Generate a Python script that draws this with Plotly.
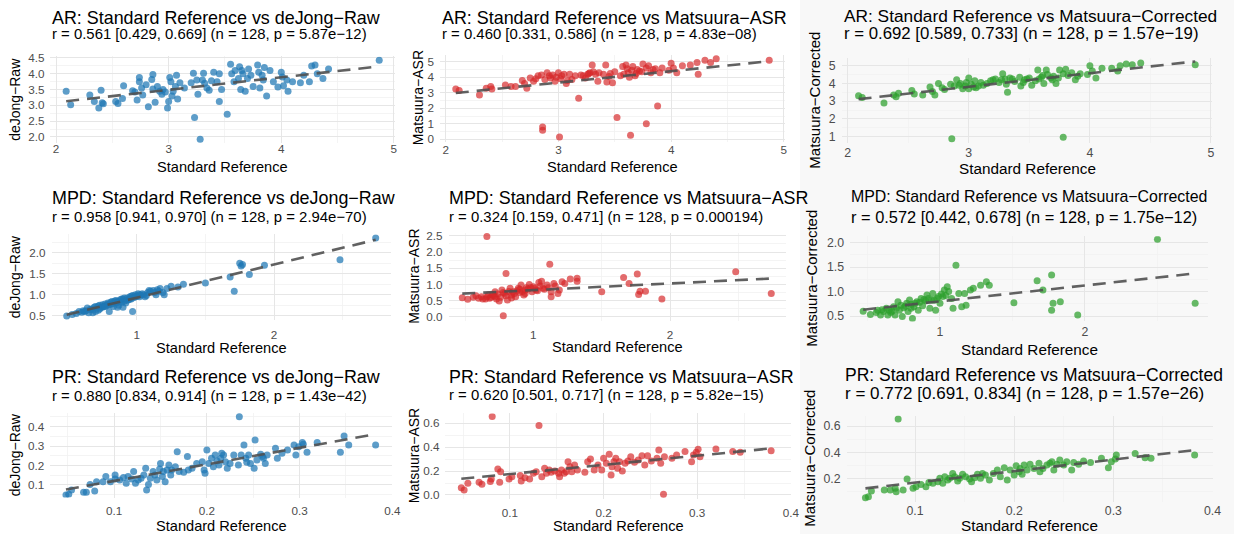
import numpy as np
import plotly.graph_objects as go

W, H = 1234, 534
FONT = "Liberation Sans, Arial, Helvetica, sans-serif"

# ---------------- data (Standard Reference x, method y) ----------------
AR_DEJONG = [(2.09,3.45),(2.13,3.02),(2.30,3.33),(2.34,3.12),(2.38,2.92),(2.40,3.48),(2.41,3.08),(2.42,3.05),
    (2.53,3.12),(2.55,3.06),(2.60,3.62),(2.59,3.22),(2.68,3.46),(2.70,3.42),(2.72,3.17),(2.74,3.88),(2.74,3.75),
    (2.76,3.55),(2.77,3.33),(2.80,3.65),(2.82,2.96),(2.85,3.82),(2.86,3.98),(2.86,3.52),(2.88,3.10),(2.90,3.60),
    (2.92,3.45),(2.94,3.35),(2.95,3.50),(2.97,3.42),(2.99,2.92),(3.00,3.12),(3.01,3.88),(3.02,3.75),(3.03,3.30),
    (3.04,3.45),(3.06,3.60),(3.07,3.95),(3.08,3.20),(3.10,3.72),(3.14,3.55),(3.20,3.72),(3.22,4.02),(3.23,2.62),
    (3.25,3.80),(3.26,3.35),(3.28,1.93),(3.30,3.80),(3.31,4.02),(3.32,3.70),(3.34,3.55),(3.36,3.48),(3.38,3.78),
    (3.40,4.05),(3.43,3.75),(3.45,4.00),(3.45,3.12),(3.47,3.50),(3.52,2.72),(3.55,4.30),(3.56,4.00),(3.58,3.75),
    (3.59,4.10),(3.62,3.85),(3.63,4.22),(3.64,3.50),(3.65,4.10),(3.66,4.00),(3.68,3.45),(3.70,3.85),(3.71,4.15),
    (3.73,3.95),(3.75,3.60),(3.79,4.28),(3.80,4.05),(3.81,3.55),(3.83,3.95),(3.84,3.80),(3.85,4.20),(3.87,3.30),
    (3.90,4.10),(3.93,3.75),(3.97,3.58),(4.00,4.05),(4.01,3.90),(4.02,3.62),(4.05,3.80),(4.06,3.45),(4.10,3.75),
    (4.17,3.72),(4.20,3.95),(4.25,3.75),(4.27,4.25),(4.30,4.28),(4.32,4.00),(4.37,3.85),(4.42,4.15),(4.87,4.43)]

AR_ASR = [(2.09,3.25),(2.12,3.15),(2.30,2.85),(2.36,3.30),(2.40,3.40),(2.41,3.25),(2.53,3.50),(2.58,3.40),
    (2.62,3.40),(2.68,3.80),(2.70,3.60),(2.72,3.30),(2.75,3.95),(2.78,3.75),(2.82,4.10),(2.85,4.15),(2.86,0.80),
    (2.86,0.58),(2.88,3.85),(2.90,4.30),(2.92,4.10),(2.95,4.15),(2.97,3.75),(3.01,0.15),(3.00,4.30),(3.02,3.90),
    (3.03,4.10),(3.05,4.20),(3.07,3.60),(3.08,3.80),(3.10,4.20),(3.18,2.65),(3.20,4.15),(3.24,3.95),(3.26,4.20),
    (3.28,4.30),(3.30,4.80),(3.31,4.35),(3.33,4.20),(3.35,3.75),(3.40,4.20),(3.42,4.80),(3.43,3.70),(3.45,4.05),
    (3.48,3.65),(3.52,1.40),(3.55,4.10),(3.57,4.70),(3.60,4.80),(3.62,4.30),(3.63,4.00),(3.64,0.27),(3.65,4.45),
    (3.66,4.70),(3.68,4.10),(3.70,4.50),(3.72,4.40),(3.75,4.85),(3.78,1.00),(3.78,4.60),(3.80,4.75),(3.82,4.30),
    (3.84,4.50),(3.86,4.55),(3.88,2.15),(3.90,4.30),(3.98,4.45),(4.00,4.90),(4.02,4.60),(4.05,4.30),(4.10,4.75),
    (4.17,4.80),(4.23,4.95),(4.24,4.20),(4.30,5.10),(4.35,4.95),(4.40,5.20),(4.87,5.10),(2.93,3.95),(2.98,4.00),
    (3.12,3.85),(3.22,4.10),(3.27,4.25),(3.36,4.30),(3.46,4.25),(3.58,4.20),(3.61,4.55),(3.69,4.25),(3.74,4.35),
    (3.92,4.60),(2.80,3.90),(3.15,4.10),(3.50,4.35)]

AR_CORR = [(2.09,3.30),(2.12,3.20),(2.30,2.90),(2.38,3.35),(2.40,3.25),(2.42,3.45),(2.53,3.60),(2.55,3.40),
    (2.62,3.35),(2.68,3.80),(2.70,3.55),(2.72,3.35),(2.75,4.00),(2.78,3.75),(2.80,3.65),(2.85,3.95),(2.86,0.88),
    (2.88,3.85),(2.90,4.20),(2.92,3.90),(2.95,3.70),(2.98,4.05),(3.00,4.30),(3.00,3.70),(3.02,3.95),(3.04,3.80),
    (3.05,4.15),(3.08,3.85),(3.10,4.05),(3.18,4.15),(3.22,4.25),(3.25,4.05),(3.28,4.55),(3.30,4.25),(3.31,3.95),
    (3.32,3.50),(3.34,4.30),(3.38,4.10),(3.42,4.35),(3.43,3.85),(3.45,4.05),(3.48,4.25),(3.52,3.90),(3.55,4.15),
    (3.57,4.75),(3.60,4.35),(3.62,4.00),(3.64,4.75),(3.65,4.50),(3.68,4.30),(3.70,4.40),(3.72,4.00),(3.75,4.75),
    (3.78,0.97),(3.78,4.55),(3.80,4.80),(3.82,4.45),(3.85,4.60),(3.88,4.20),(3.90,4.40),(3.98,4.50),(4.00,5.00),
    (4.02,4.70),(4.05,4.30),(4.10,4.85),(4.18,4.85),(4.23,4.70),(4.25,5.00),(4.30,5.10),(4.35,5.05),(4.42,5.15),
    (4.87,5.05),(2.93,4.00),(2.97,3.85),(3.12,3.90),(3.20,4.20),(3.27,4.20),(3.36,4.25),(3.46,4.20),(3.58,4.25),
    (3.61,4.45),(3.69,4.20),(3.74,4.30),(3.92,4.55),(3.06,3.75),(3.15,4.00),(3.50,4.30)]

MPD_DEJONG = [(0.49,0.49),(0.53,0.53),(0.56,0.55),(0.60,0.58),(0.62,0.60),(0.63,0.62),(0.65,0.57),(0.66,0.65),
    (0.68,0.64),(0.69,0.70),(0.70,0.60),(0.71,0.68),(0.72,0.73),(0.73,0.66),(0.74,0.70),(0.75,0.76),(0.76,0.72),
    (0.77,0.78),(0.78,0.74),(0.79,0.80),(0.80,0.76),(0.80,0.60),(0.81,0.82),(0.82,0.78),(0.83,0.72),(0.84,0.85),
    (0.85,0.80),(0.86,0.83),(0.87,0.75),(0.88,0.88),(0.89,0.82),(0.90,0.90),(0.91,0.85),(0.92,0.80),(0.93,0.92),
    (0.94,0.88),(0.95,0.95),(0.96,0.90),(0.97,0.60),(0.97,0.98),(0.98,0.93),(0.99,1.00),(1.00,0.96),(1.01,1.02),
    (1.02,0.95),(1.03,0.99),(1.05,1.00),(1.07,0.98),(1.08,1.05),(1.10,1.08),(1.12,1.10),(1.14,1.00),(1.15,1.12),
    (1.17,1.15),(1.19,1.05),(1.20,1.00),(1.25,1.20),(1.30,1.18),(1.34,1.25),(1.50,1.28),(1.68,1.42),(1.71,1.08),
    (1.75,1.75),(1.76,1.68),(1.77,1.72),(1.82,1.48),(1.93,1.70),(2.48,1.83),(2.74,2.35),(0.58,0.60),(0.61,0.62),
    (0.64,0.68),(0.67,0.66),(0.70,0.72),(0.73,0.75),(0.75,0.70),(0.77,0.72),(0.79,0.76),(0.82,0.84),(0.83,0.80),
    (0.85,0.86),(0.87,0.84),(0.89,0.90),(0.91,0.92),(0.93,0.87),(0.95,0.90),(0.96,0.96),(0.99,0.95),(1.02,1.00),
    (1.04,1.02),(1.06,0.95),(1.09,1.10),(1.13,1.05),(1.16,1.08),(1.22,1.15),(0.90,0.70),(0.86,0.70),(0.72,0.63),
    (0.68,0.57)]

MPD_ASR = [(0.48,0.59),(0.52,0.54),(0.58,0.65),(0.60,0.57),(0.62,0.62),(0.65,0.55),(0.66,2.48),(0.67,0.67),
    (0.68,0.57),(0.70,0.69),(0.72,0.77),(0.73,0.55),(0.75,0.49),(0.77,0.83),(0.78,0.03),(0.79,0.72),(0.80,1.34),
    (0.81,0.52),(0.83,0.88),(0.84,0.67),(0.85,0.77),(0.87,0.62),(0.89,0.88),(0.90,0.75),(0.91,0.98),(0.93,0.67),
    (0.94,0.83),(0.95,0.90),(0.97,1.00),(0.99,0.77),(1.00,0.93),(1.02,0.83),(1.04,1.06),(1.06,1.10),(1.07,0.88),
    (1.10,0.98),(1.12,1.62),(1.13,0.77),(1.13,0.62),(1.15,1.03),(1.18,0.72),(1.19,0.83),(1.21,1.08),(1.23,1.03),
    (1.27,1.17),(1.32,1.19),(1.32,1.10),(1.50,0.77),(1.66,1.21),(1.70,1.03),(1.76,1.32),(1.77,0.69),(1.78,0.79),
    (1.82,0.79),(1.94,0.55),(2.48,1.39),(2.74,0.72),(0.56,0.60),(0.63,0.55),(0.66,0.62),(0.69,0.60),(0.71,0.65),
    (0.74,0.70),(0.76,0.60),(0.78,0.75),(0.80,0.65),(0.82,0.78),(0.86,0.72),(0.88,0.80),(0.90,0.85),(0.92,0.78),
    (0.94,0.72),(0.96,0.86),(0.98,0.90),(1.01,0.88),(1.03,0.80),(1.05,0.95),(1.08,0.85),(1.11,0.90),(1.16,0.95),
    (0.84,0.58),(0.72,0.62)]

MPD_CORR = [(0.47,0.60),(0.52,0.53),(0.57,0.62),(0.59,0.52),(0.61,0.59),(0.63,0.66),(0.64,0.52),(0.66,0.57),
    (0.68,0.69),(0.69,0.52),(0.71,0.79),(0.72,0.62),(0.74,0.49),(0.75,0.67),(0.77,0.76),(0.78,0.59),(0.79,0.83),
    (0.81,0.45),(0.82,0.69),(0.84,0.79),(0.85,0.62),(0.87,0.86),(0.88,0.71),(0.90,0.81),(0.91,0.93),(0.93,0.66),
    (0.94,0.83),(0.95,0.96),(0.97,0.62),(0.98,0.86),(1.00,0.76),(1.02,0.90),(1.03,1.03),(1.05,1.10),(1.06,1.00),
    (1.08,0.86),(1.09,0.66),(1.11,1.54),(1.13,0.96),(1.15,0.69),(1.17,0.96),(1.18,0.72),(1.21,1.03),(1.23,1.07),
    (1.28,1.13),(1.32,1.20),(1.34,1.13),(1.51,0.77),(1.67,1.22),(1.71,1.03),(1.77,1.34),(1.77,0.62),(1.78,0.76),
    (1.83,0.79),(1.95,0.52),(2.50,2.07),(2.76,0.76),(0.56,0.57),(0.60,0.63),(0.65,0.62),(0.70,0.66),(0.73,0.72),
    (0.76,0.70),(0.80,0.74),(0.83,0.76),(0.86,0.78),(0.89,0.84),(0.92,0.86),(0.96,0.82),(0.99,0.90),(1.01,0.95),
    (1.04,0.92),(0.67,0.60),(0.80,0.66)]

PR_DEJONG = [(0.048,0.049),(0.051,0.052),(0.054,0.074),(0.067,0.062),(0.070,0.062),(0.074,0.103),(0.079,0.069),
    (0.081,0.117),(0.088,0.117),(0.091,0.143),(0.096,0.117),(0.101,0.151),(0.101,0.131),(0.106,0.126),(0.110,0.138),
    (0.113,0.109),(0.115,0.143),(0.119,0.131),(0.121,0.169),(0.123,0.109),(0.126,0.126),(0.129,0.134),(0.132,0.151),
    (0.134,0.186),(0.135,0.074),(0.137,0.103),(0.139,0.134),(0.142,0.169),(0.144,0.151),(0.146,0.126),(0.149,0.182),
    (0.150,0.211),(0.152,0.143),(0.153,0.169),(0.155,0.117),(0.157,0.177),(0.159,0.203),(0.161,0.151),(0.162,0.177),
    (0.166,0.194),(0.168,0.271),(0.170,0.169),(0.175,0.165),(0.179,0.246),(0.180,0.177),(0.184,0.186),(0.189,0.211),
    (0.195,0.220),(0.197,0.177),(0.198,0.160),(0.200,0.280),(0.202,0.211),(0.205,0.237),(0.207,0.194),(0.209,0.254),
    (0.211,0.223),(0.213,0.203),(0.215,0.237),(0.216,0.263),(0.218,0.254),(0.220,0.220),(0.222,0.186),(0.225,0.211),
    (0.229,0.254),(0.234,0.203),(0.235,0.451),(0.237,0.254),(0.240,0.306),(0.242,0.237),(0.243,0.217),(0.245,0.254),
    (0.247,0.211),(0.251,0.186),(0.252,0.331),(0.254,0.229),(0.258,0.258),(0.260,0.246),(0.261,0.237),(0.263,0.211),
    (0.265,0.254),(0.274,0.289),(0.276,0.237),(0.281,0.263),(0.287,0.280),(0.294,0.306),(0.296,0.254),(0.299,0.297),
    (0.303,0.319),(0.304,0.309),(0.308,0.268),(0.319,0.319),(0.344,0.268),(0.348,0.352),(0.353,0.306),(0.382,0.306)]

PR_ASR = [(0.048,0.061),(0.051,0.042),(0.055,0.098),(0.067,0.106),(0.070,0.089),(0.079,0.112),(0.081,0.656),
    (0.080,0.134),(0.087,0.218),(0.090,0.195),(0.089,0.106),(0.099,0.134),(0.102,0.153),(0.111,0.162),(0.112,0.117),
    (0.116,0.145),(0.121,0.134),(0.125,0.181),(0.128,0.195),(0.131,0.581),(0.134,0.153),(0.137,0.223),(0.139,0.181),
    (0.142,0.209),(0.144,0.190),(0.148,0.201),(0.152,0.181),(0.153,0.153),(0.155,0.209),(0.158,0.181),(0.160,0.195),
    (0.162,0.279),(0.164,0.237),(0.166,0.195),(0.169,0.251),(0.172,0.209),(0.180,0.190),(0.183,0.279),(0.186,0.301),
    (0.190,0.209),(0.194,0.251),(0.198,0.209),(0.200,0.307),(0.203,0.265),(0.206,0.340),(0.208,0.167),(0.209,0.237),
    (0.211,0.279),(0.213,0.307),(0.215,0.223),(0.217,0.279),(0.220,0.201),(0.223,0.265),(0.226,0.285),(0.229,0.321),
    (0.233,0.274),(0.237,0.293),(0.241,0.329),(0.244,0.251),(0.247,0.329),(0.251,0.285),(0.257,0.307),(0.259,0.377),
    (0.261,0.265),(0.264,0.006),(0.265,0.321),(0.273,0.307),(0.278,0.335),(0.287,0.363),(0.294,0.279),(0.296,0.335),
    (0.299,0.357),(0.301,0.382),(0.303,0.321),(0.320,0.385),(0.338,0.363),(0.346,0.357),(0.379,0.371)]

PR_CORR = [(0.050,0.052),(0.053,0.060),(0.056,0.103),(0.069,0.111),(0.075,0.111),(0.080,0.124),(0.083,0.654),
    (0.081,0.098),(0.088,0.111),(0.092,0.195),(0.098,0.124),(0.101,0.136),(0.106,0.154),(0.111,0.136),(0.114,0.169),
    (0.118,0.162),(0.123,0.175),(0.125,0.200),(0.128,0.162),(0.130,0.213),(0.133,0.187),(0.135,0.200),(0.138,0.238),
    (0.140,0.213),(0.143,0.180),(0.145,0.200),(0.148,0.231),(0.151,0.213),(0.155,0.195),(0.157,0.175),(0.160,0.205),
    (0.163,0.231),(0.166,0.200),(0.168,0.238),(0.171,0.225),(0.175,0.187),(0.179,0.238),(0.183,0.264),(0.186,0.213),
    (0.190,0.282),(0.193,0.187),(0.196,0.264),(0.200,0.225),(0.202,0.297),(0.205,0.251),(0.206,0.276),(0.208,0.231),
    (0.210,0.302),(0.213,0.264),(0.216,0.307),(0.220,0.276),(0.225,0.315),(0.226,0.251),(0.229,0.276),(0.233,0.302),
    (0.236,0.315),(0.238,0.327),(0.240,0.264),(0.243,0.307),(0.246,0.340),(0.250,0.302),(0.253,0.327),(0.258,0.264),
    (0.260,0.322),(0.265,0.307),(0.270,0.332),(0.277,0.322),(0.288,0.353),(0.295,0.282),(0.298,0.327),(0.302,0.348),
    (0.303,0.378),(0.322,0.391),(0.332,0.358),(0.338,0.353),(0.382,0.378)]

TITLES = ["AR: Standard Reference vs deJong\u2212Raw", "AR: Standard Reference vs Matsuura\u2212ASR",
          "AR: Standard Reference vs Matsuura\u2212Corrected",
          "MPD: Standard Reference vs deJong\u2212Raw", "MPD: Standard Reference vs Matsuura\u2212ASR",
          "MPD: Standard Reference vs Matsuura\u2212Corrected",
          "PR: Standard Reference vs deJong\u2212Raw", "PR: Standard Reference vs Matsuura\u2212ASR",
          "PR: Standard Reference vs Matsuura\u2212Corrected"]
SUBTITLES = ["r = 0.561 [0.429, 0.669] (n = 128, p = 5.87e\u221212)",
             "r = 0.460 [0.331, 0.586] (n = 128, p = 4.83e\u221208)",
             "r = 0.692 [0.589, 0.733] (n = 128, p = 1.57e\u221219)",
             "r = 0.958 [0.941, 0.970] (n = 128, p = 2.94e\u221270)",
             "r = 0.324 [0.159, 0.471] (n = 128, p = 0.000194)",
             "r = 0.572 [0.442, 0.678] (n = 128, p = 1.75e\u221212)",
             "r = 0.880 [0.834, 0.914] (n = 128, p = 1.43e\u221242)",
             "r = 0.620 [0.501, 0.717] (n = 128, p = 5.82e\u221215)",
             "r = 0.772 [0.691, 0.834] (n = 128, p = 1.57e\u221226)"]
Y_TITLES = ["deJong\u2212Raw", "Matsuura\u2212ASR", "Matsuura\u2212Corrected"] * 3
X_TITLE = "Standard Reference"
DATASETS = [AR_DEJONG, AR_ASR, AR_CORR, MPD_DEJONG, MPD_ASR, MPD_CORR, PR_DEJONG, PR_ASR, PR_CORR]

COLORS = ["rgba(31,119,180,0.72)", "rgba(214,39,40,0.68)", "rgba(44,160,44,0.72)"]

# ---------------- layout geometry (pixels) ----------------
GEOM = [
    dict(xr=[1.95, 5.01], yr=[1.8, 4.55], xpx=(50.4, 395), ypx=(56.4, 143.3), xd=1, yd=0.5, xf="d", yf=".1f",
         t=(50, 18.3), s=(50, 34), xt=(222.7, 167), yt=15, ts=17.9, ss=14.9, xso=-3),
    dict(xr=[1.95, 5.01], yr=[-0.16, 5.45], xpx=(440, 785), ypx=(54.8, 141.8), xd=1, yd=1, xf="d", yf="d",
         t=(440, 18.3), s=(440, 34), xt=(612.5, 166.7), yt=418, ts=17.9, ss=14.9, xso=-1),
    dict(xr=[1.95, 5.01], yr=[0.63, 5.42], xpx=(841.6, 1212.2), ypx=(58.2, 143.2), xd=1, yd=1, xf="d", yf="d",
         t=(841.7, 15.5), s=(841.7, 33.5), xt=(1027, 168), yt=815, ts=17.3, ss=16.8, xso=0),
    dict(xr=[0.38, 2.85], yr=[0.39, 2.44], xpx=(51.6, 390.8), ypx=(234.2, 320.3), xd=1, yd=0.5, xf="d", yf=".1f",
         t=(50, 198.3), s=(50, 217), xt=(221, 348), yt=15, ts=17.9, ss=14.9, xso=6),
    dict(xr=[0.38, 2.85], yr=[-0.12, 2.59], xpx=(448.6, 786.3), ypx=(233.0, 320.6), xd=1, yd=0.5, xf="d", yf=".1f",
         t=(446.7, 198.3), s=(446.7, 216.7), xt=(617, 346.7), yt=414, ts=17.9, ss=14.9, xso=6),
    dict(xr=[0.38, 2.85], yr=[0.39, 2.13], xpx=(850.1, 1208.2), ypx=(236.3, 321.4), xd=1, yd=0.5, xf="d", yf=".1f",
         t=(849, 196.7), s=(849, 216.7), xt=(1029, 349), yt=812, ts=15.9, ss=16.4, xso=1),
    dict(xr=[0.031, 0.40], yr=[0.035, 0.47], xpx=(50.2, 392.3), ypx=(413.1, 497.6), xd=0.1, yd=0.1, xf=".1f", yf=".1f",
         t=(50, 376.7), s=(50, 395.7), xt=(221, 526.2), yt=15, ts=17.9, ss=14.9, xso=5),
    dict(xr=[0.031, 0.40], yr=[-0.033, 0.683], xpx=(445.4, 790.8), ypx=(413.4, 498.9), xd=0.1, yd=0.2, xf=".1f", yf=".1f",
         t=(446.7, 376.7), s=(446.7, 395), xt=(618, 525.7), yt=414, ts=17.9, ss=14.9, xso=5),
    dict(xr=[0.031, 0.40], yr=[0.02, 0.68], xpx=(846.6, 1212.5), ypx=(415.6, 501.9), xd=0.1, yd=0.2, xf=".1f", yf=".1f",
         t=(843, 375), s=(843, 393.3), xt=(1029, 525.3), yt=810, ts=17.5, ss=17.0, xso=0),
]

fig = go.Figure()
annotations = []
layout_axes = {}

for i, (data, g) in enumerate(zip(DATASETS, GEOM)):
    k = i + 1
    col = i % 3
    xs = np.array([p[0] for p in data])
    ys = np.array([p[1] for p in data])
    xa = "x" if k == 1 else f"x{k}"
    ya = "y" if k == 1 else f"y{k}"
    big = col == 2
    tick_sz = 12.3 if big else 11.7
    fig.add_trace(go.Scatter(x=xs, y=ys, mode="markers", xaxis=xa, yaxis=ya,
                             marker=dict(size=7, color=COLORS[col], line=dict(width=0)),
                             showlegend=False, hoverinfo="skip"))
    slope, icpt = np.polyfit(xs, ys, 1)
    lx = np.array([xs.min(), xs.max()])
    fig.add_trace(go.Scatter(x=lx, y=slope * lx + icpt, mode="lines", xaxis=xa, yaxis=ya,
                             line=dict(color="rgba(80,80,80,0.9)", width=2.6, dash="13px,8px"),
                             showlegend=False, hoverinfo="skip"))
    common = dict(showline=False, zeroline=False, ticks="", showgrid=True,
                  gridcolor="#e6e6e6", gridwidth=1,
                  tickfont=dict(family=FONT, size=tick_sz, color="#4d4d4d"),
                  automargin=False, fixedrange=True)
    xkey = "xaxis" if k == 1 else f"xaxis{k}"
    ykey = "yaxis" if k == 1 else f"yaxis{k}"
    layout_axes[xkey] = dict(common, domain=[g["xpx"][0] / W, g["xpx"][1] / W], range=g["xr"],
                             anchor=ya, tick0=0, dtick=g["xd"], tickformat=g["xf"],
                             minor=dict(dtick=g["xd"] / 2, tick0=0, showgrid=True, gridcolor="#f1f1f1", gridwidth=0.8),
                             ticklabelstandoff=int(g["xso"]))
    layout_axes[ykey] = dict(common, domain=[1 - g["ypx"][1] / H, 1 - g["ypx"][0] / H], range=g["yr"],
                             anchor=xa, tick0=0, dtick=g["yd"], tickformat=g["yf"],
                             minor=dict(dtick=g["yd"] / 2, tick0=0, showgrid=True, gridcolor="#f1f1f1", gridwidth=0.8),
                             ticklabelstandoff=5)
    annotations.append(dict(text=TITLES[i], x=g["t"][0] / W, y=1 - g["t"][1] / H, xref="paper", yref="paper",
                            xanchor="left", yanchor="middle", showarrow=False,
                            font=dict(family=FONT, size=g["ts"], color="#000000")))
    annotations.append(dict(text=SUBTITLES[i], x=g["s"][0] / W, y=1 - g["s"][1] / H, xref="paper", yref="paper",
                            xanchor="left", yanchor="middle", showarrow=False,
                            font=dict(family=FONT, size=g["ss"], color="#000000")))
    annotations.append(dict(text=X_TITLE, x=g["xt"][0] / W, y=1 - g["xt"][1] / H, xref="paper", yref="paper",
                            xanchor="center", yanchor="middle", showarrow=False,
                            font=dict(family=FONT, size=15.3 if big else 14.6, color="#000000")))
    yc = (g["ypx"][0] + g["ypx"][1]) / 2
    annotations.append(dict(text=Y_TITLES[i], x=g["yt"] / W, y=1 - yc / H, xref="paper", yref="paper",
                            xanchor="center", yanchor="middle", showarrow=False, textangle=-90,
                            font=dict(family=FONT, size=15 if big else 14, color="#000000")))

# the right-hand column sits on a very light grey backdrop in the reference
shapes = [dict(type="rect", xref="paper", yref="paper", x0=800 / W, x1=1, y0=0, y1=1,
               fillcolor="#f8f8f8", line=dict(width=0), layer="below")]

fig.update_layout(width=W, height=H, margin=dict(l=0, r=0, t=0, b=0), autosize=False,
                  paper_bgcolor="white", plot_bgcolor="rgba(0,0,0,0)", template="none",
                  annotations=annotations, shapes=shapes, **layout_axes)
fig.write_html("out.html", config={"displayModeBar": False, "staticPlot": True},
               post_script="document.body.style.margin='0px';document.body.style.padding='0px';"
                           "document.body.style.overflow='hidden';")
